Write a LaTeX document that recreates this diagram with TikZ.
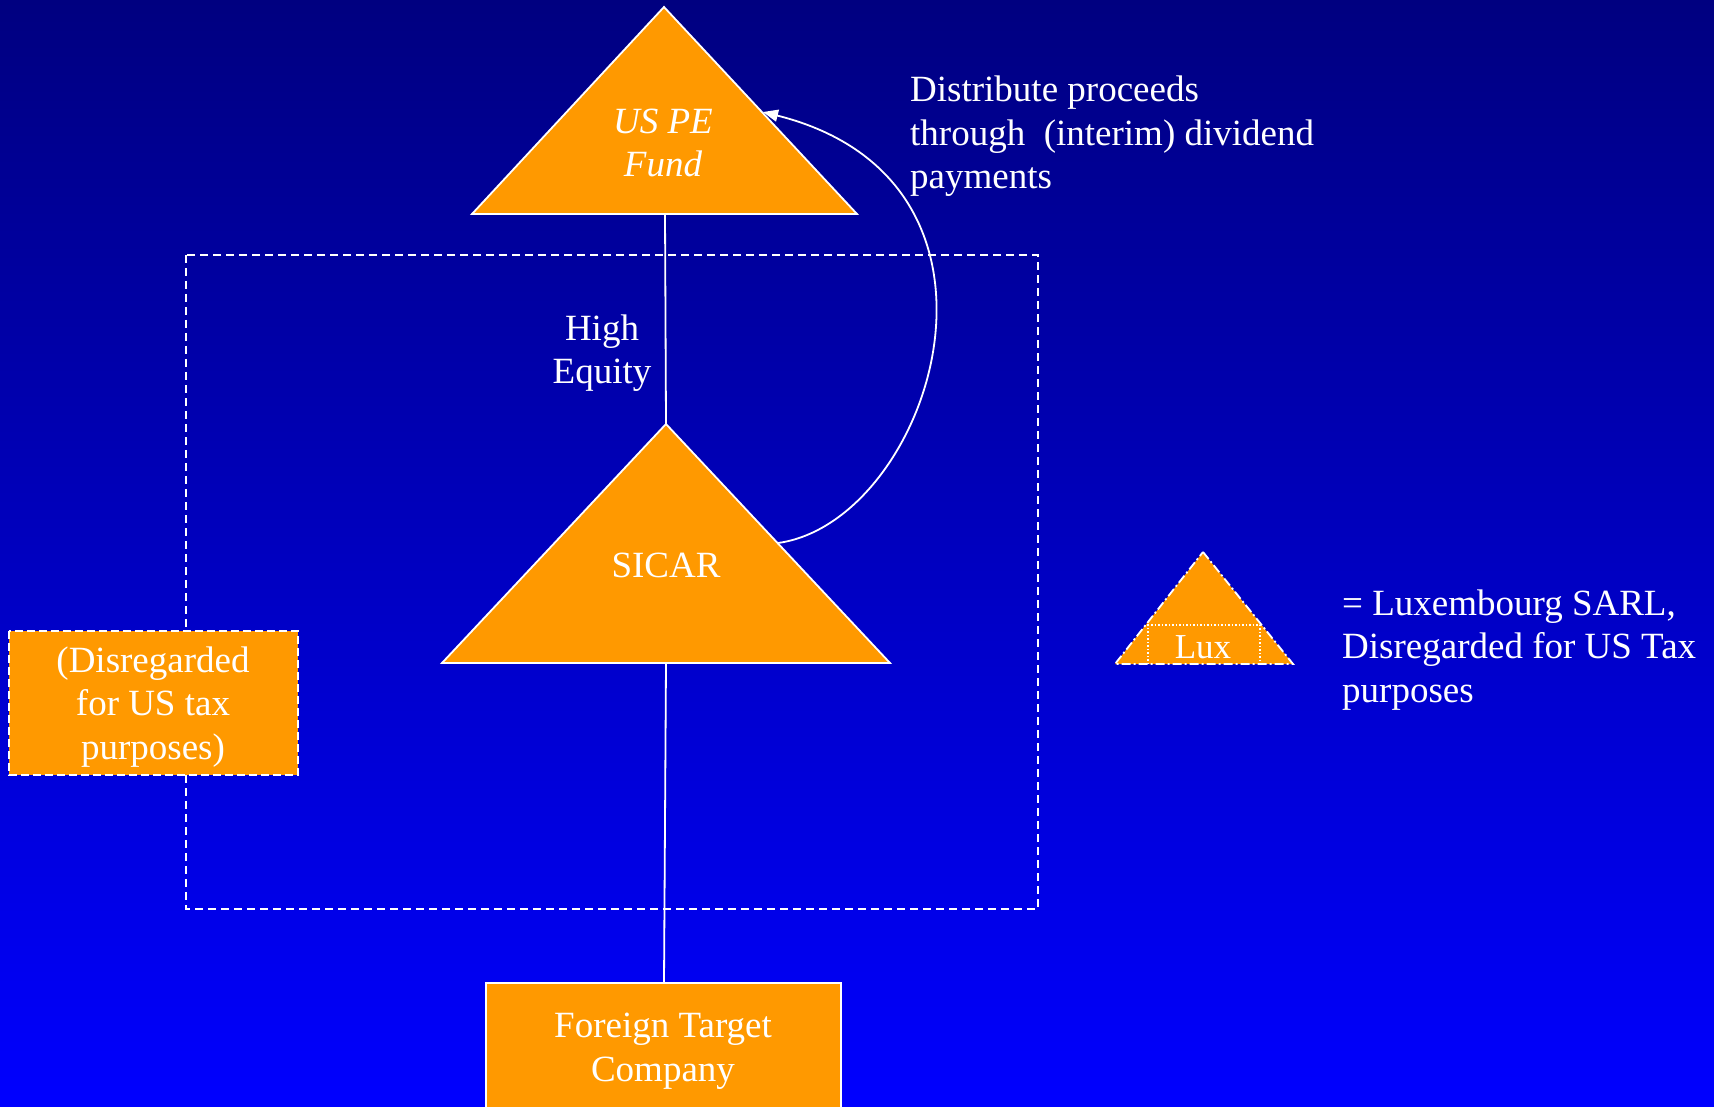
\documentclass[tikz,border=0pt]{standalone}
\usepackage{fontspec}
\setmainfont{Liberation Serif}
\usetikzlibrary{arrows.meta}
\definecolor{navytop}{RGB}{0,0,128}
\definecolor{bluebottom}{RGB}{0,0,255}
\definecolor{entity}{RGB}{255,153,0}
\tikzset{
  x=1pt, y=-1pt,
  every node/.style={text=white, inner sep=0pt, font=\fontsize{37}{43.5}\selectfont},
  entitytri/.style={fill=entity, draw=white, line width=1.8pt, line join=miter},
  entitybox/.style={fill=entity, draw=white, line width=1.8pt},
  link/.style={draw=white, line width=1.8pt},
  % multi-line labels are placed by the baseline of their last line
  lbl/.style={anchor=base, align=center},
  lbleft/.style={anchor=base west, align=left},
}
\begin{document}
\begin{tikzpicture}
% background
\shade[top color=navytop, bottom color=bluebottom] (0,0) rectangle (1714,1107);
\useasboundingbox (0,0) rectangle (1714,1107);

% key points of the two main entities
\coordinate (fundApex) at (664,7);
\coordinate (fundLeft) at (472,214);
\coordinate (fundRight) at (857,214);
\coordinate (fundBase) at (665,214);
\coordinate (sicarApex) at (666,424);
\coordinate (sicarLeft) at (442,663);
\coordinate (sicarRight) at (890,663);
\coordinate (sicarBase) at (666,663);
\coordinate (sicarSide) at (778,543);
\coordinate (fundSide) at (763,112);

% dashed perimeter of the Luxembourg structure
\draw[white, line width=1.8pt, dash pattern=on 8pt off 5pt] (186,255) rectangle (1038,909);

% ownership links
\draw[link] (fundBase) -- (sicarApex);
\draw[link] (sicarBase) -- (664,983);

% entities
\draw[entitytri] (fundApex) -- (fundRight) -- (fundLeft) -- cycle;
\draw[entitytri] (sicarApex) -- (sicarRight) -- (sicarLeft) -- cycle;
\draw[entitybox] (486,983) rectangle (841,1120);
\draw[fill=entity, draw=white, line width=1.8pt, dash pattern=on 8pt off 4pt] (9,631) rectangle (298,775);

% distribution back to the fund
\draw[white, line width=1.8pt, -{Triangle[length=15pt,width=12pt]}]
  (sicarSide) .. controls (930,522) and (1042,182) .. (fundSide);

% labels
\node[lbl] (fundLbl) at (663,177) {\itshape US PE\\\itshape Fund};
\node[lbl] (sicarLbl) at (666,577) {SICAR};
\node[lbl] (equityLbl) at (602,384) {High\\Equity};
\node[lbl] (targetLbl) at (663,1081) {Foreign Target\\Company};
\node[lbl] (disregLbl) at (153,759) {(Disregarded\\for US tax\\purposes)};
\node[lbleft] (distLbl) at (910,189) {Distribute proceeds\\through\ \ (interim) dividend\\payments};

% legend
\draw[fill=entity, draw=white, line width=1.8pt, dash pattern=on 9pt off 3pt on 2pt off 3pt]
  (1203,552) -- (1293,664) -- (1115,664) -- cycle;
\draw[white, line width=1.5pt, dotted] (1148,664) -- (1148,625) -- (1260,625) -- (1260,664);
\node[lbl, font=\fontsize{35}{42}\selectfont] (luxLbl) at (1203,658) {Lux};
\node[lbleft] (legendLbl) at (1342,702) {= Luxembourg SARL,\\Disregarded for US Tax\\purposes};
\end{tikzpicture}
\end{document}
